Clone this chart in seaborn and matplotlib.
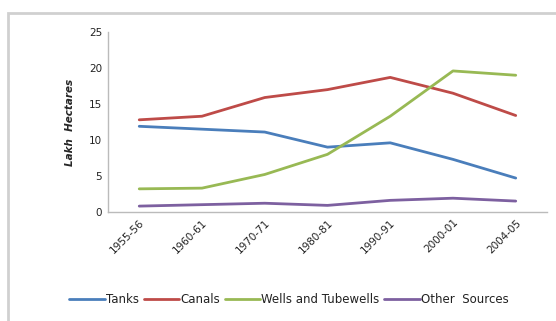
import pandas as pd
import seaborn as sns
import matplotlib.pyplot as plt
from matplotlib.patches import Rectangle

years = ["1955-56", "1960-61", "1970-71", "1980-81", "1990-91", "2000-01", "2004-05"]
tanks = [11.9, 11.5, 11.1, 9.0, 9.6, 7.3, 4.7]
canals = [12.8, 13.3, 15.9, 17.0, 18.7, 16.5, 13.4]
wells = [3.2, 3.3, 5.2, 8.0, 13.3, 19.6, 19.0]
others = [0.8, 1.0, 1.2, 0.9, 1.6, 1.9, 1.5]

series = ["Tanks", "Canals", "Wells and Tubewells", "Other  Sources"]
colors = ["#4a7ebb", "#be4b48", "#98b954", "#7d60a0"]


def main():
    rows = []
    for name, vals in zip(series, [tanks, canals, wells, others]):
        for y, v in zip(years, vals):
            rows.append({"Year": y, "Value": v, "Source": name})
    df = pd.DataFrame(rows)

    sns.set_style("white")
    plt.rcParams["font.family"] = ["DejaVu Sans"]
    fig = plt.figure(figsize=(5.56, 3.21), dpi=100)
    ax = fig.add_axes([0.194, 0.340, 0.790, 0.560])

    sns.lineplot(data=df, x="Year", y="Value", hue="Source", palette=colors,
                 sort=False, linewidth=2, ax=ax, legend=False)

    ax.set_xlim(-0.5, 6.5)
    ax.set_ylim(0, 25)
    ax.set_yticks([0, 5, 10, 15, 20, 25])
    ax.set_xticks(range(len(years)))
    ax.set_xticklabels(years, rotation=45, ha="right", rotation_mode="anchor")
    ax.tick_params(labelsize=7.5, colors="#222222", length=0, pad=4)
    ax.set_xlabel("")
    ax.set_ylabel("Lakh  Hectares", fontsize=7.5, fontstyle="italic",
                  fontweight="bold", labelpad=10)
    for s in ["top", "right"]:
        ax.spines[s].set_visible(False)
    for s in ["left", "bottom"]:
        ax.spines[s].set_color("#bbbbbb")
        ax.spines[s].set_linewidth(1)

    handles = [plt.Line2D([], [], color=c, lw=2) for c in colors]
    fig.legend(handles, series, loc="center", bbox_to_anchor=(0.52, 0.068),
               ncol=4, frameon=False, fontsize=8.5, handlelength=3,
               columnspacing=0.4, handletextpad=0.1, labelcolor="#222222")

    fig.patches.append(Rectangle((0.015, -0.01), 1.0, 0.97,
                                 transform=fig.transFigure, fill=False,
                                 edgecolor="#d0d0d0", linewidth=2))

    fig.savefig("out.png", dpi=100)


main()
